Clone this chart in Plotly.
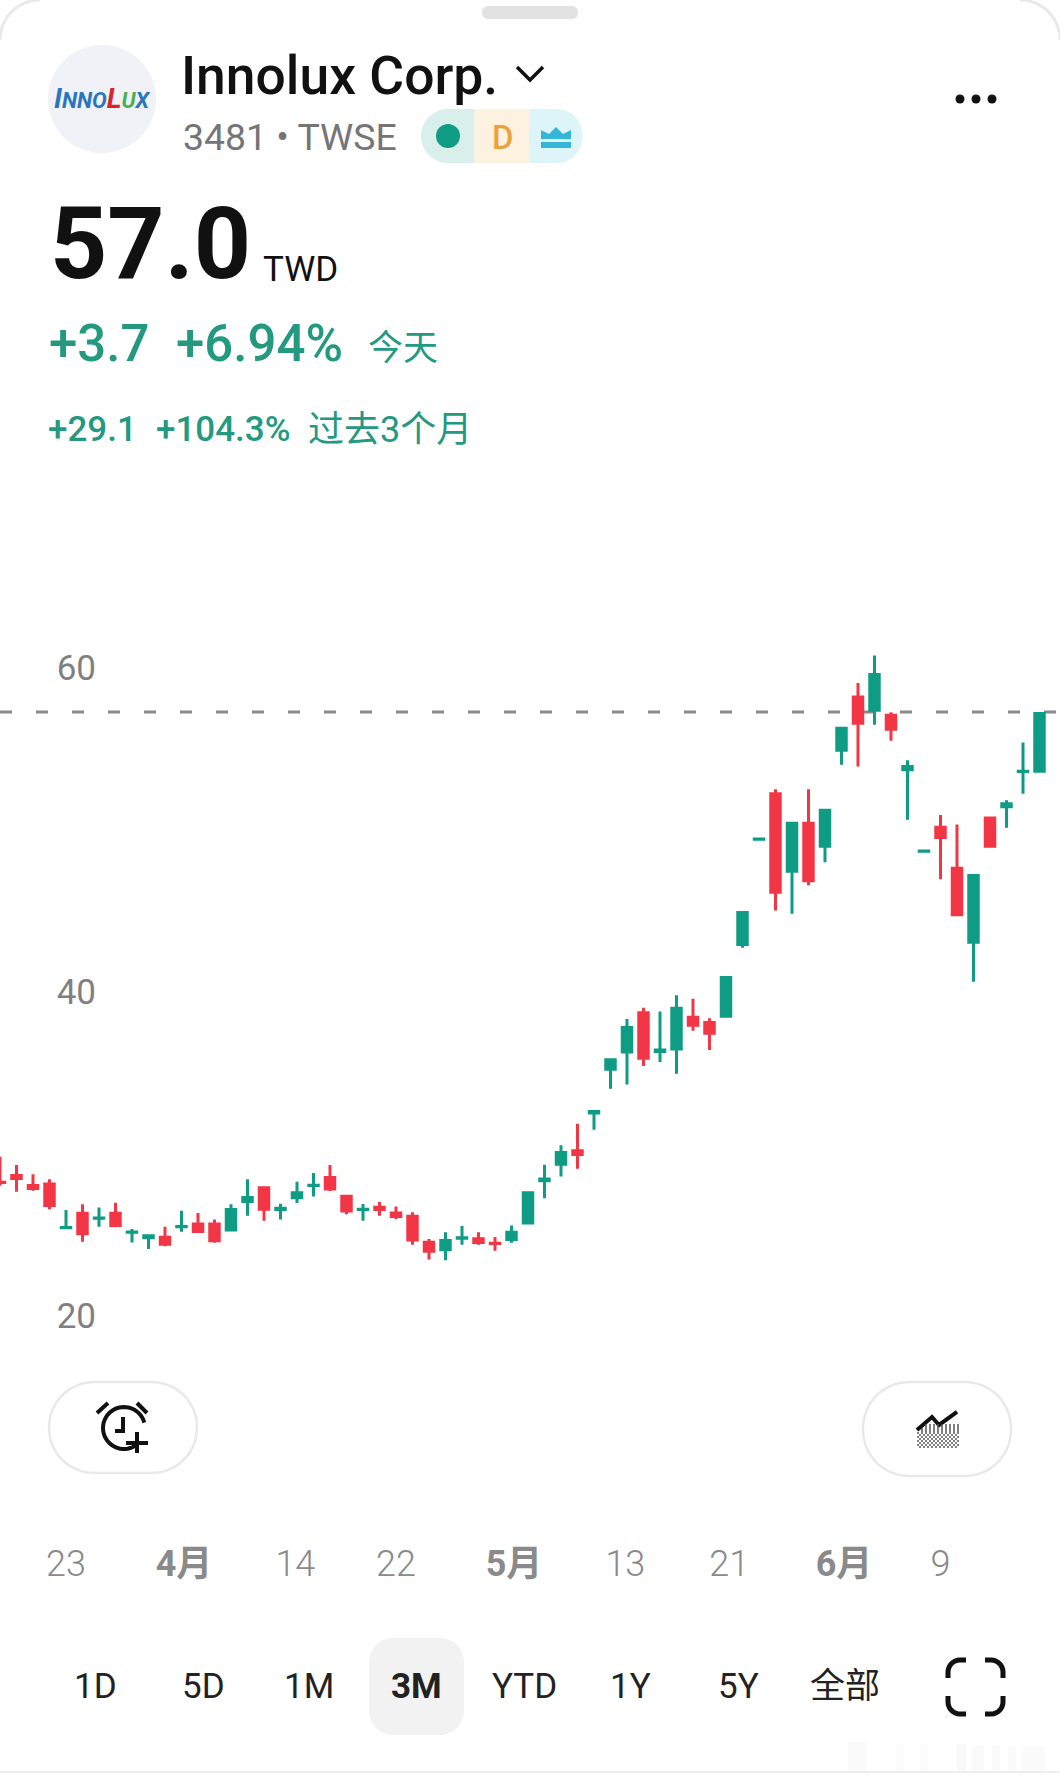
import numpy as np
import plotly.graph_objects as go

# ---------- data ----------
opens = [27.97,28.39,27.77,27.87,25.16,26.06,25.75,26.06,24.88,24.54,24.58,25.22,25.39,25.39,25.02,26.78,27.63,26.29,27.01,27.77,
         28.27,27.11,26.29,26.43,26.08,25.88,24.27,23.80,24.52,24.48,24.21,24.44,25.45,28.06,29.09,29.91,32.24,34.95,36.02,38.43,
         36.04,36.19,38.16,37.83,38.22,42.65,49.14,51.95,47.17,50.14,48.72,54.64,57.92,57.11,56.80,53.43,48.40,49.89,47.36,42.79,
         50.45,51.15,53.33,53.35]
closes = [27.95,28.20,27.59,26.54,25.18,24.79,25.77,25.30,24.90,24.67,24.15,25.24,24.93,24.36,26.29,27.03,26.31,26.37,27.32,27.79,
          27.55,26.19,26.31,26.29,25.86,24.40,23.72,24.38,24.54,24.25,24.19,24.89,27.32,28.18,29.81,29.69,32.34,35.53,37.52,35.63,
          36.13,38.72,37.67,37.17,40.61,44.62,49.16,45.88,50.14,46.58,50.94,56.00,56.31,59.31,55.94,53.64,48.42,49.25,44.48,46.91,
          48.72,51.33,53.35,56.91]
highs = [29.55,29.04,28.46,28.15,26.26,26.61,26.42,26.71,25.09,24.76,25.23,26.22,26.07,25.68,26.61,28.15,27.72,26.65,28.01,28.54,
         29.04,27.14,26.63,26.75,26.47,26.12,24.47,24.88,25.27,24.88,24.59,25.31,27.35,29.06,30.25,31.59,32.40,35.60,38.05,38.75,
         38.52,39.51,39.30,38.09,40.65,44.65,49.17,52.23,50.20,52.23,51.00,56.05,58.79,60.48,56.98,54.02,48.43,50.64,50.05,46.95,
         50.50,51.55,55.11,56.95]
lows = [27.76,27.39,27.45,26.30,25.14,24.30,25.23,25.19,24.26,23.85,24.02,24.92,24.90,24.24,24.99,25.91,25.60,25.68,26.69,27.10,
        27.43,25.99,25.60,25.91,25.70,24.12,23.21,23.15,24.12,24.12,23.75,24.24,25.42,26.98,28.32,28.81,31.22,33.75,34.00,35.15,
        35.39,34.67,37.33,36.14,38.18,42.45,49.13,44.74,44.55,46.30,47.72,53.75,53.63,56.22,55.23,50.35,48.39,46.67,44.44,40.35,
        48.68,49.86,51.96,53.30]
session = list(range(len(opens)))

last_price = 57.0
y_ticks = [20, 40, 60]
x_tick_sessions = [4, 11.15, 17.9, 24, 31.15, 37.9, 44.2, 51.15, 57]
x_tick_labels = ["23", "<b>4月</b>", "14", "22", "<b>5月</b>", "13", "21", "<b>6月</b>", "9"]
range_tabs = ["1D", "5D", "1M", "<b>3M</b>", "YTD", "1Y", "5Y", "全部"]
range_tab_x = [95, 203, 309, 416, 524, 630, 738, 845]

# ---------- page geometry ----------
W, H = 1060, 1783
PX_PER_UNIT = 16.2
PRICE_Y = 712
PX_PER_SESSION = 16.5
y_range = [last_price - (H - PRICE_Y) / PX_PER_UNIT, last_price + PRICE_Y / PX_PER_UNIT]
x_range = [0, W / PX_PER_SESSION]

GREEN, RED = "#0F9C84", "#F23645"
TEAL_TEXT = "#23997F"
FONT = "Roboto, 'Noto Sans CJK SC', sans-serif"

fx = lambda x: x / W
fy = lambda y: 1 - y / H

shapes, notes = [], []


def poly(pts, color=None, width=0, fill=None, close=False):
    d = "M " + " L ".join(f"{fx(x):.5f} {fy(y):.5f}" for x, y in pts) + (" Z" if close else "")
    shapes.append(dict(type="path", xref="paper", yref="paper", path=d,
                       line=dict(color=color or "rgba(0,0,0,0)", width=width),
                       fillcolor=fill or "rgba(0,0,0,0)", layer="above"))


def arc(cx, cy, r, a0, a1, n=40):
    return [(cx + r * np.cos(t), cy + r * np.sin(t)) for t in np.radians(np.linspace(a0, a1, n))]


def round_rect(x0, y0, x1, y1, r, fill=None, color=None, width=0, corners=(1, 1, 1, 1)):
    pts = []
    rs = [r * c for c in corners]
    pts += arc(x0 + rs[0], y0 + rs[0], rs[0], 180, 270, 12)
    pts += arc(x1 - rs[1], y0 + rs[1], rs[1], 270, 360, 12)
    pts += arc(x1 - rs[2], y1 - rs[2], rs[2], 0, 90, 12)
    pts += arc(x0 + rs[3], y1 - rs[3], rs[3], 90, 180, 12)
    poly(pts, color=color, width=width, fill=fill, close=True)


def disc(cx, cy, r, fill):
    shapes.append(dict(type="circle", xref="paper", yref="paper", x0=fx(cx - r), x1=fx(cx + r),
                       y0=fy(cy + r), y1=fy(cy - r), fillcolor=fill, line_width=0, layer="above"))


def band(x0, x1, y0, y1, alpha):
    shapes.append(dict(type="rect", xref="paper", yref="paper", x0=fx(x0), x1=fx(x1), y0=fy(y1), y1=fy(y0),
                       fillcolor=f"rgba(205,205,205,{alpha})", line_width=0, layer="above"))


def label(x, y, text, size, color, weight=400, anchor="left"):
    notes.append(dict(x=fx(x), y=fy(y), xref="paper", yref="paper", text=text, showarrow=False,
                      xanchor=anchor, yanchor="middle", borderpad=0,
                      font=dict(family=FONT, size=size, color=color, weight=weight)))


# window corners and handle
poly(arc(40, 40, 40, 180, 270), color="#E9E9E9", width=3)
poly(arc(W - 40, 40, 40, 270, 360), color="#E9E9E9", width=3)
round_rect(482, 6, 578, 19, 6, fill="#E2E2E2")

# header
disc(102, 99, 54, "#F1F2F7")
notes.append(dict(x=fx(102), y=fy(98), xref="paper", yref="paper", showarrow=False, xanchor="center", yanchor="middle",
                  text=('<b><i><span style="color:#2A76BD;font-size:28px">I</span><span style="color:#2A76BD">NNO</span>'
                        '<span style="color:#D8262F;font-size:28px">L</span><span style="color:#4CAF50">U</span>'
                        '<span style="color:#2A76BD">X</span></i></b>'),
                  font=dict(family=FONT, size=22)))
label(180, 76, "Innolux Corp.", 53.4, "#111111", 500)
poly([(517, 67), (530, 80), (543, 67)], color="#111111", width=3.5)
label(182, 137, "3481 • TWSE", 37.4, "#757575")
round_rect(421, 109, 474.5, 163, 27, fill="#D9EFEB", corners=(1, 0, 0, 1))
round_rect(474.5, 109, 529, 163, 0.01, fill="#FDF1E0")
round_rect(529, 109, 582.5, 163, 26, fill="#DDF4F9", corners=(0, 1, 1, 0))
disc(448, 136, 12, "#0E9C84")
label(503, 137, "D", 33, "#E8A33D", 500, "center")
poly([(541, 139), (541, 130), (549, 134), (556, 127), (563, 134), (571, 130), (571, 139)], fill="#35B6D6", close=True)
round_rect(541, 142, 571, 148, 0.01, fill="#35B6D6")
for cx in (960, 976, 992):
    disc(cx, 99, 4.5, "#111111")

label(49, 244, "<b>57.0</b>", 100, "#111111")
label(262, 269, "TWD", 35, "#111111")
label(48, 343, "+3.7", 51, TEAL_TEXT, 500)
label(175, 343, "+6.94%", 51, TEAL_TEXT, 500)
label(367, 348, "今天", 35, TEAL_TEXT)
label(47, 430, "+29.1", 35, TEAL_TEXT, 500)
label(155, 430, "+104.3%", 35, TEAL_TEXT, 500)
label(307, 430, "过去3个月", 36, TEAL_TEXT)

# action pills
round_rect(49, 1382, 197, 1473, 45, color="#E9E9E9", width=2.5)
round_rect(863, 1382, 1011, 1476, 46, color="#E9E9E9", width=2.5)
# alarm icon
poly(arc(124, 1428, 21, 50, 345), color="#111111", width=4)
poly([(115, 1431), (123, 1431), (123, 1417)], color="#111111", width=4)
poly([(97, 1413), (108, 1403)], color="#111111", width=4)
poly([(137, 1403), (147, 1413)], color="#111111", width=4)
poly([(126, 1443), (148, 1443)], color="#111111", width=4)
poly([(137, 1432), (137, 1453)], color="#111111", width=4)
# area-chart icon
poly([(917, 1430), (932, 1417), (939, 1425), (957, 1412)], color="#111111", width=4)
for row, hatch_y in enumerate(range(1425, 1448, 2)):
    left = 917 + max(0, 8 - (hatch_y - 1425))
    for hatch_x in range(left + row % 2 * 2, 958, 4):
        poly([(hatch_x, hatch_y), (hatch_x + 2, hatch_y)], color="#555555", width=1.5)

# range tab highlight and expand icon
round_rect(369, 1638, 464, 1735, 24, fill="#F2F2F2")
for tab, tx in zip(range_tabs, range_tab_x):
    label(tx, 1686, tab, 35, "#222222", 400, "center")
K = "#111111"
poly([(948, 1678)] + arc(960, 1672, 12, 180, 270, 8) + [(966, 1660)], color=K, width=5)
poly([(985, 1660)] + arc(991, 1672, 12, 270, 360, 8) + [(1003, 1678)], color=K, width=5)
poly([(948, 1696)] + arc(960, 1702, 12, 180, 90, 8) + [(966, 1714)], color=K, width=5)
poly([(985, 1714)] + arc(991, 1702, 12, 90, 0, 8) + [(1003, 1696)], color=K, width=5)

# bottom rule and blurred watermark remnants
poly([(0, 1772), (W, 1772)], color="#EEEEEE", width=2)
band(848, 866, 1742, 1771, 0.07)
band(896, 904, 1744, 1771, 0.05)
band(920, 928, 1744, 1771, 0.05)
band(957, 966, 1744, 1771, 0.13)
band(972, 984, 1746, 1771, 0.09)
band(992, 1000, 1746, 1771, 0.10)
band(1008, 1016, 1746, 1771, 0.08)
band(1022, 1045, 1746, 1771, 0.07)

# last-price line: a dashed line behind the candles
shapes.append(dict(type="line", xref="paper", yref="y", x0=0, x1=1, y0=last_price, y1=last_price,
                   line=dict(color="#8A8A8A", width=3, dash="12px,24px"), layer="below"))

fig = go.Figure(go.Candlestick(
    x=session, open=opens, high=highs, low=lows, close=closes,
    increasing=dict(line=dict(color=GREEN, width=3), fillcolor=GREEN),
    decreasing=dict(line=dict(color=RED, width=3), fillcolor=RED),
    whiskerwidth=0, hoverinfo="skip", showlegend=False,
))

fig.update_layout(
    width=W, height=H, margin=dict(l=0, r=0, t=0, b=0),
    paper_bgcolor="white", plot_bgcolor="rgba(0,0,0,0)", showlegend=False,
    boxgap=0.18, shapes=shapes, annotations=notes,
    xaxis=dict(range=x_range, rangeslider_visible=False, showgrid=False, zeroline=False, showline=False,
               ticks="", tickmode="array", tickvals=x_tick_sessions, ticktext=x_tick_labels,
               anchor="free", position=fy(1539),
               tickfont=dict(family=FONT, size=36, color="#8A8A8A", weight=300)),
    yaxis=dict(range=y_range, showgrid=False, zeroline=False, showline=False, ticks="",
               tickmode="array", tickvals=y_ticks, ticktext=[str(v) for v in y_ticks],
               ticklabelstandoff=-97, ticklabelshift=4,
               tickfont=dict(family=FONT, size=35, color="#808080")),
)

fig.write_html("out.html", config=dict(displayModeBar=False, responsive=False),
               post_script="document.body.style.margin='0';document.body.style.overflow='hidden';")
